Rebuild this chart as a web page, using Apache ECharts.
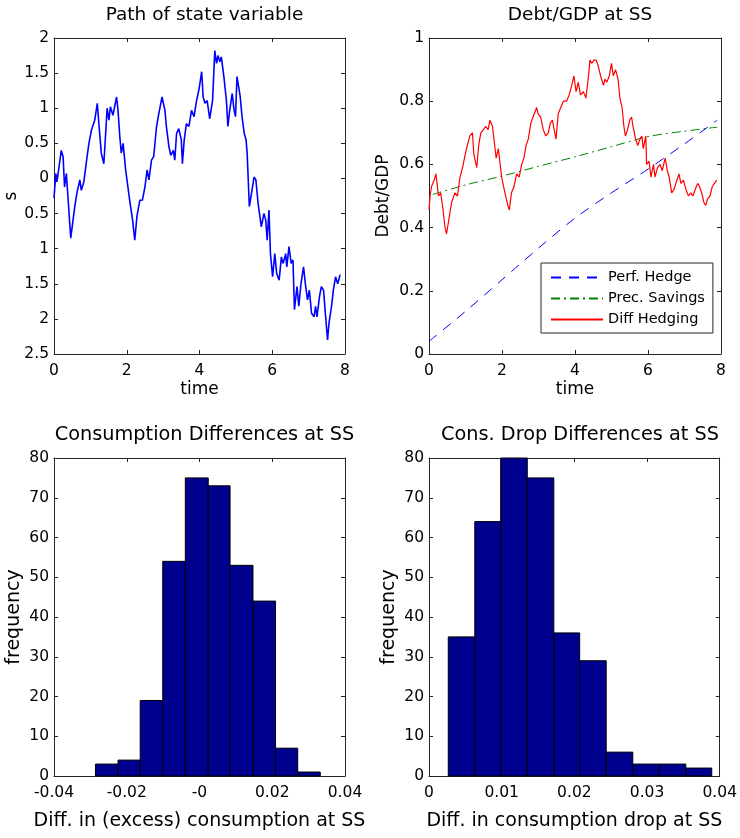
<!DOCTYPE html>
<html>
<head>
<meta charset="utf-8">
<script src="https://cdn.jsdelivr.net/npm/echarts@6/dist/echarts.min.js"></script>
<style>
  html, body { margin: 0; padding: 0; background: #fff; }
  #main { width: 740px; height: 838px; }
</style>
</head>
<body>
<div id="main"></div>
<script>
// path of the state variable, [time, s]
var statePath = [
  [0,-0.28],[0.05,0.07],[0.08,-0.05],[0.14,0.17],[0.2,0.40],[0.25,0.31],[0.29,-0.12],[0.34,0.07],[0.39,-0.31],[0.46,-0.85],
  [0.5,-0.69],[0.57,-0.40],[0.63,-0.21],[0.71,-0.02],[0.75,-0.17],[0.82,-0.05],[0.91,0.31],[0.96,0.50],[1.03,0.69],[1.12,0.83],
  [1.19,1.07],[1.24,0.74],[1.30,0.36],[1.37,0.21],[1.42,0.64],[1.46,1.00],[1.51,0.83],[1.55,1.02],[1.62,0.90],[1.72,1.16],
  [1.76,0.97],[1.81,0.59],[1.85,0.36],[1.90,0.50],[1.97,0.12],[2.08,-0.31],[2.16,-0.59],[2.22,-0.88],[2.28,-0.54],[2.36,-0.31],
  [2.43,-0.31],[2.50,-0.12],[2.56,0.12],[2.61,-0.02],[2.68,0.26],[2.74,0.31],[2.82,0.74],[2.88,0.92],[2.97,1.16],[3.05,0.97],
  [3.09,0.74],[3.16,0.45],[3.21,0.33],[3.28,0.40],[3.32,0.26],[3.37,0.64],[3.43,0.71],[3.50,0.55],[3.53,0.21],[3.58,0.55],
  [3.64,0.78],[3.71,0.74],[3.78,0.97],[3.85,0.88],[3.92,1.11],[3.99,1.28],[4.06,1.52],[4.10,1.16],[4.15,1.07],[4.21,1.11],
  [4.28,0.85],[4.36,1.11],[4.42,1.82],[4.47,1.64],[4.51,1.75],[4.56,1.66],[4.60,1.73],[4.67,1.45],[4.74,1.11],[4.78,0.74],
  [4.83,0.97],[4.90,1.21],[4.95,0.97],[4.99,0.88],[5.03,1.45],[5.09,1.26],[5.12,1.16],[5.17,0.88],[5.23,0.64],[5.28,0.55],
  [5.31,0.36],[5.37,-0.40],[5.43,-0.21],[5.50,0.02],[5.55,-0.02],[5.61,-0.35],[5.66,-0.54],[5.70,-0.69],[5.77,-0.50],[5.82,-0.59],
  [5.86,-0.88],[5.91,-0.45],[5.95,-1.07],[6.01,-1.40],[6.07,-1.07],[6.12,-1.35],[6.19,-1.45],[6.25,-1.12],[6.30,-1.21],[6.37,-1.07],
  [6.40,-1.26],[6.46,-0.97],[6.52,-1.21],[6.57,-1.16],[6.61,-1.87],[6.68,-1.54],[6.73,-1.82],[6.79,-1.50],[6.86,-1.26],[6.91,-1.50],
  [6.97,-1.73],[7.02,-1.59],[7.08,-1.92],[7.15,-1.97],[7.19,-1.82],[7.23,-1.97],[7.30,-1.68],[7.35,-1.54],[7.41,-1.59],[7.46,-1.92],
  [7.52,-2.30],[7.56,-2.06],[7.63,-1.82],[7.68,-1.59],[7.74,-1.40],[7.80,-1.50],[7.86,-1.38],[7.88,-1.38]
];
// labels as printed on the s axis (minus signs are missing in the original)
var stateTicks = ['2.5','2','1.5','1','0.5','0','0.5','1','1.5','2'];

// debt/GDP, [time, value]
var perfHedge = [[0,0.04],[1,0.135],[2,0.235],[3,0.335],[4,0.43],[5,0.51],[6,0.585],[7,0.665],[7.9,0.74]];
var precSavings = [[0.1,0.505],[1,0.535],[2,0.563],[3,0.594],[4,0.624],[5,0.656],[6,0.688],[7,0.705],[7.9,0.718]];
var diffHedging = [
  [0,0.456],[0.03,0.50],[0.07,0.53],[0.14,0.55],[0.19,0.57],[0.26,0.50],[0.32,0.51],[0.37,0.47],[0.44,0.40],[0.48,0.38],
  [0.55,0.43],[0.62,0.48],[0.71,0.51],[0.78,0.50],[0.85,0.56],[0.92,0.59],[0.99,0.63],[1.05,0.66],[1.12,0.69],[1.19,0.70],
  [1.23,0.63],[1.31,0.59],[1.36,0.66],[1.42,0.70],[1.49,0.71],[1.55,0.72],[1.62,0.71],[1.67,0.74],[1.74,0.72],[1.78,0.68],
  [1.84,0.62],[1.90,0.65],[1.95,0.60],[1.99,0.56],[2.08,0.51],[2.16,0.47],[2.20,0.456],[2.26,0.51],[2.33,0.53],[2.40,0.57],
  [2.47,0.56],[2.54,0.60],[2.60,0.62],[2.66,0.66],[2.72,0.68],[2.79,0.73],[2.85,0.75],[2.95,0.78],[2.99,0.76],[3.06,0.75],
  [3.13,0.71],[3.20,0.69],[3.27,0.70],[3.32,0.73],[3.38,0.74],[3.43,0.71],[3.48,0.68],[3.54,0.76],[3.61,0.78],[3.68,0.80],
  [3.77,0.80],[3.84,0.82],[3.91,0.85],[3.97,0.88],[4.03,0.83],[4.09,0.86],[4.15,0.82],[4.23,0.83],[4.30,0.81],[4.37,0.88],
  [4.41,0.93],[4.46,0.92],[4.52,0.93],[4.58,0.93],[4.64,0.91],[4.70,0.88],[4.78,0.85],[4.82,0.87],[4.87,0.86],[4.94,0.88],
  [5.00,0.92],[5.05,0.88],[5.11,0.90],[5.18,0.87],[5.23,0.81],[5.29,0.78],[5.34,0.72],[5.38,0.69],[5.44,0.71],[5.50,0.74],
  [5.55,0.75],[5.59,0.72],[5.66,0.68],[5.72,0.66],[5.78,0.68],[5.83,0.69],[5.87,0.65],[5.94,0.69],[5.96,0.60],[6.03,0.61],
  [6.08,0.56],[6.15,0.60],[6.19,0.56],[6.26,0.59],[6.33,0.60],[6.39,0.58],[6.47,0.62],[6.53,0.58],[6.58,0.56],[6.65,0.51],
  [6.71,0.52],[6.79,0.55],[6.85,0.57],[6.90,0.54],[6.97,0.55],[7.04,0.52],[7.11,0.50],[7.17,0.51],[7.23,0.50],[7.29,0.52],
  [7.36,0.54],[7.41,0.53],[7.47,0.51],[7.53,0.48],[7.58,0.47],[7.63,0.49],[7.70,0.50],[7.76,0.53],[7.82,0.54],[7.88,0.55]
];

// histogram of consumption differences
var consEdges = [-0.0286,-0.0224,-0.0163,-0.0101,-0.0039,0.0024,0.0084,0.0147,0.0209,0.0270,0.0332];
var consCounts = [3,4,19,54,75,73,53,44,7,1];
var consTicks = ['-0.04','-0.02','-0','0.02','0.04'];

// histogram of consumption drop differences
var dropEdges = [0.00265,0.0063,0.00986,0.01352,0.01717,0.02073,0.02438,0.02804,0.03169,0.03534,0.0389];
var dropCounts = [35,64,80,75,36,29,6,3,3,2];
var dropTicks = ['0','0.01','0.02','0.03','0.04'];

var FONT = 'DejaVu Sans';
var AXIS_COLOR = '#262626';

var grids = [
  {left: 54, top: 38, width: 291, height: 316},
  {left: 429, top: 38, width: 292, height: 316},
  {left: 54, top: 458, width: 291, height: 318},
  {left: 429, top: 458, width: 292, height: 318}
];

function tickFormatter(min, interval, labels) {
  if (!labels) return undefined;
  return function (v) {
    return labels[Math.round((v - min) / interval)];
  };
}

// matlab style box: labelled axis plus a mirrored one with inward ticks
function axisPair(dim, gi, min, max, interval, labels, name, nameGap, nameSize) {
  var common = {
    type: 'value', gridIndex: gi, min: min, max: max, interval: interval,
    axisLine: {show: true, onZero: false, lineStyle: {color: AXIS_COLOR, width: 1}},
    axisTick: {show: true, inside: true, length: 4, lineStyle: {color: AXIS_COLOR}},
    splitLine: {show: false}
  };
  var main = Object.assign({}, common, {
    position: dim === 'x' ? 'bottom' : 'left',
    name: name, nameLocation: 'middle', nameGap: nameGap,
    nameTextStyle: {fontFamily: FONT, fontSize: nameSize, color: '#000'},
    axisLabel: {
      fontFamily: FONT, fontSize: 15.5, color: '#000',
      margin: dim === 'x' ? 9 : 5,
      formatter: tickFormatter(min, interval, labels),
      showMinLabel: true, showMaxLabel: true
    }
  });
  var mirror = Object.assign({}, common, {
    position: dim === 'x' ? 'top' : 'right',
    axisLabel: {show: false}
  });
  return [main, mirror];
}

var xAxes = [].concat(
  axisPair('x', 0, 0, 8, 2, null, 'time', 27, 17),
  axisPair('x', 1, 0, 8, 2, null, 'time', 27, 17),
  axisPair('x', 2, -0.04, 0.04, 0.02, consTicks, 'Diff. in (excess) consumption at SS', 36, 19),
  axisPair('x', 3, 0, 0.04, 0.01, dropTicks, 'Diff. in consumption drop at SS', 36, 19)
);
var yAxes = [].concat(
  axisPair('y', 0, -2.5, 2, 0.5, stateTicks, 's', 34, 17),
  axisPair('y', 1, 0, 1, 0.2, null, 'Debt/GDP', 37, 17),
  axisPair('y', 2, 0, 80, 10, null, 'frequency', 30, 19),
  axisPair('y', 3, 0, 80, 10, null, 'frequency', 30, 19)
);

function histData(edges, counts) {
  return counts.map(function (c, i) { return [edges[i], edges[i + 1], c]; });
}

function renderBin(params, api) {
  var p0 = api.coord([api.value(0), 0]);
  var p1 = api.coord([api.value(1), api.value(2)]);
  return {
    type: 'rect',
    shape: {x: p0[0], y: p1[1], width: p1[0] - p0[0], height: p0[1] - p1[1]},
    style: {fill: '#00008f', stroke: '#000', lineWidth: 1}
  };
}

function title(text, cx, top, size) {
  return {
    text: text, left: cx, top: top, textAlign: 'center',
    textStyle: {fontFamily: FONT, fontSize: size, fontWeight: 'normal', color: '#000'}
  };
}

var myChart = echarts.init(document.getElementById('main'));

var option = {
  animation: false,
  backgroundColor: '#fff',
  title: [
    title('Path of state variable', 199.5, 1, 18.5),
    title('Debt/GDP at SS', 575, 1, 18.5),
    title('Consumption Differences at SS', 199.5, 420, 19.3),
    title('Cons. Drop Differences at SS', 575, 420, 19.3)
  ],
  grid: grids,
  xAxis: xAxes,
  yAxis: yAxes,
  legend: {
    orient: 'vertical', left: 541, top: 263,
    backgroundColor: '#fff', borderColor: AXIS_COLOR, borderWidth: 1,
    padding: [7, 8, 6, 9],
    itemWidth: 52, itemHeight: 14, itemGap: 6,
    itemStyle: {opacity: 0},
    textStyle: {fontFamily: FONT, fontSize: 14.5, color: '#000'},
    data: ['Perf. Hedge', 'Prec. Savings', 'Diff Hedging']
  },
  series: [
    {
      type: 'line', name: 'state', xAxisIndex: 0, yAxisIndex: 0,
      data: statePath, symbol: 'none',
      lineStyle: {color: '#0000ff', width: 1.6}
    },
    {
      type: 'line', name: 'Perf. Hedge', xAxisIndex: 2, yAxisIndex: 2,
      data: perfHedge, symbol: 'none', smooth: 0.3,
      itemStyle: {color: '#0000ff'},
      lineStyle: {color: '#0000ff', width: 1, type: [10, 8]}
    },
    {
      type: 'line', name: 'Prec. Savings', xAxisIndex: 2, yAxisIndex: 2,
      data: precSavings, symbol: 'none', smooth: 0.3,
      itemStyle: {color: '#008000'},
      lineStyle: {color: '#008000', width: 1, type: [9, 4, 2, 4]}
    },
    {
      type: 'line', name: 'Diff Hedging', xAxisIndex: 2, yAxisIndex: 2,
      data: diffHedging, symbol: 'none',
      itemStyle: {color: '#ff0000'},
      lineStyle: {color: '#ff0000', width: 1.2}
    },
    {
      type: 'custom', name: 'cons', xAxisIndex: 4, yAxisIndex: 4,
      data: histData(consEdges, consCounts),
      encode: {x: [0, 1], y: 2},
      renderItem: renderBin
    },
    {
      type: 'custom', name: 'drop', xAxisIndex: 6, yAxisIndex: 6,
      data: histData(dropEdges, dropCounts),
      encode: {x: [0, 1], y: 2},
      renderItem: renderBin
    }
  ]
};

myChart.setOption(option);
</script>
</body>
</html>
